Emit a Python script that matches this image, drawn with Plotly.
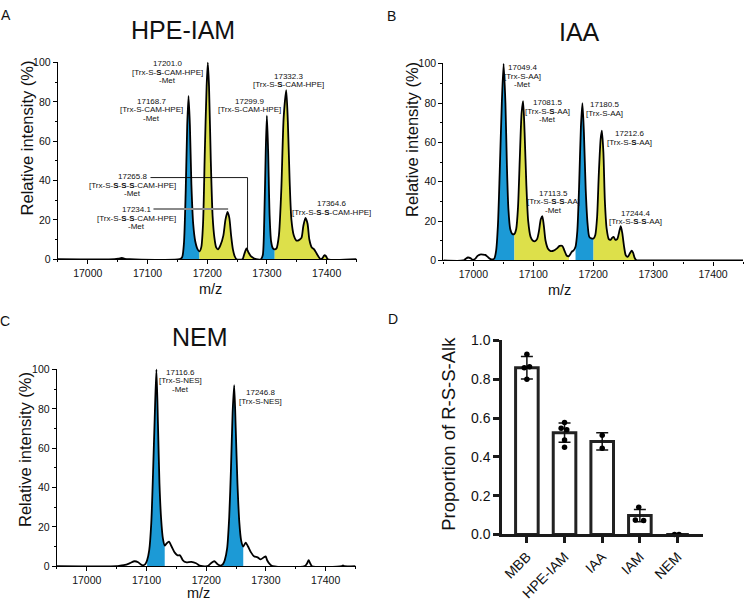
import plotly.graph_objects as go

W, H = 744, 606
FONT = "Arial, 'Liberation Sans', Helvetica, sans-serif"
BLUE = "#1C9AD6"
YELLOW = "#DDE04A"
INK = "#111111"

# ---------------- Panel A: HPE-IAM spectrum ----------------
a_mz = [16950, 17045, 17052, 17057, 17062, 17070, 17154, 17158, 17161, 17164,
        17166.5, 17168.7, 17171, 17173.5, 17176.5, 17180, 17184, 17187, 17190, 17193,
        17196, 17199, 17201, 17203, 17206, 17209, 17212, 17215, 17218, 17222,
        17227, 17230.5, 17234, 17237, 17240, 17243, 17246, 17249, 17259, 17262,
        17265.8, 17269, 17273, 17278, 17282, 17290, 17293, 17295.5, 17298, 17299.9,
        17302, 17304.5, 17307, 17310, 17313, 17316, 17320, 17324, 17328, 17332.3,
        17335, 17338, 17341, 17345, 17349, 17352, 17355, 17358, 17361, 17364.6,
        17368, 17371, 17375, 17379, 17383, 17387, 17390, 17393, 17396, 17399,
        17402, 17450]
a_int = [0, 0, 0.3, 0.6, 0.2, 0, 0, 1, 8, 35,
         68, 83, 68, 38, 18, 9, 5, 4, 6, 18,
         55, 88, 100, 88, 50, 22, 11, 6, 5, 7,
         12, 20, 24, 21, 12, 5, 1.5, 0, 0, 2.5,
         5.5, 3.5, 1.5, 0.5, 0, 0, 2, 20, 55, 73,
         55, 22, 9, 5.5, 5, 5.5, 12, 35, 72, 86,
         70, 40, 20, 12, 9.5, 9.5, 10, 11, 17, 21,
         18, 10, 6, 5, 3, 1, 0, 0.5, 2, 1.5,
         0, 0]
a_blue = [(17154, 17187), (17290, 17313)]
a_yellow = [(17187, 17249), (17259, 17282), (17313, 17402)]
a_labels = [
    ["17201.0", "[Trx-S-<b>S</b>-CAM-HPE]", "-Met"],
    ["17168.7", "[Trx-S-CAM-HPE]", "-Met"],
    ["17299.9", "[Trx-S-CAM-HPE]"],
    ["17332.3", "[Trx-S-<b>S</b>-CAM-HPE]"],
    ["17265.8", "[Trx-S-<b>S</b>-<b>S</b>-<b>S</b>-CAM-HPE]", "-Met"],
    ["17234.1", "[Trx-S-<b>S</b>-<b>S</b>-CAM-HPE]", "-Met"],
    ["17364.6", "[Trx-S-<b>S</b>-<b>S</b>-CAM-HPE]"],
]
a_label_pos = [(17134, 99.5), (17107, 80.2), (17271, 80.2), (17336, 93),
               (17075, 42), (17081.6, 25.2), (17408, 28.2)]

# ---------------- Panel B: IAA spectrum ----------------
b_mz = [16950, 16983, 16987, 16991, 16995, 16999, 17003, 17007, 17011, 17016,
        17020, 17024, 17028, 17032, 17035, 17038, 17041, 17044, 17047.5, 17050.5,
        17053.5, 17056, 17058.5, 17061.5, 17065, 17068.5, 17071.5, 17074.5, 17077.5, 17080.5,
        17083, 17085.5, 17088.5, 17091.5, 17095.5, 17099.5, 17103, 17106.5, 17109.5, 17112.5,
        17115, 17117.5, 17120.5, 17124.5, 17129, 17134, 17139, 17144, 17148.5, 17152,
        17156, 17159.5, 17162, 17164.5, 17167, 17170.5, 17173.5, 17176.5, 17179.5, 17182,
        17184.5, 17187.5, 17190.5, 17193.5, 17197, 17200.5, 17203.5, 17206.5, 17209.5, 17212.5,
        17214.5, 17217, 17219.5, 17222.5, 17226, 17229, 17231.5, 17234, 17237, 17240,
        17243, 17246, 17248.5, 17251.5, 17254.5, 17257.5, 17261, 17264, 17266.5, 17269,
        17271.5, 17274, 17280, 17450]
b_int = [0, 0, 0.8, 1.5, 1.2, 0.3, 0.8, 2.3, 3, 3,
         2.8, 1.8, 0.8, 0.5, 1, 5, 18, 45, 80, 100,
         80, 48, 26, 16, 13.5, 13.5, 16, 27, 52, 75,
         81, 65, 38, 20, 12, 10, 9.8, 11, 15, 21,
         22.5, 18, 10, 6, 4.8, 5, 6, 7.4, 7.4, 5,
         2.4, 2.2, 3.3, 4.5, 5, 7, 15, 38, 68, 80,
         65, 36, 19, 12, 11.2, 11.2, 13, 22, 45, 62,
         66, 55, 30, 16, 10.8, 10.5, 11.5, 12, 10.5, 10.8,
         14, 17.5, 14, 7, 2.5, 1.8, 3.5, 5, 4, 1.5,
         0.3, 0, 0, 0]
b_blue = [(17035, 17068.5), (17170.5, 17200.5)]
b_yellow = [(17068.5, 17159.5), (17200.5, 17274)]
b_labels = [
    ["17049.4", "[Trx-S-AA]", "-Met"],
    ["17081.5", "[Trx-S-<b>S</b>-AA]", "-Met"],
    ["17180.5", "[Trx-S-AA]"],
    ["17212.6", "[Trx-S-<b>S</b>-AA]"],
    ["17113.5", "[Trx-S-<b>S</b>-<b>S</b>-AA]", "-Met"],
    ["17244.4", "[Trx-S-<b>S</b>-<b>S</b>-AA]"],
]
b_label_pos = [(17081.8, 98), (17123.7, 80.3), (17218.5, 79.3), (17260.4, 64.5),
               (17133.7, 34.3), (17270.4, 23.9)]

# ---------------- Panel C: NEM spectrum ----------------
c_mz = [16950, 17050, 17056, 17064, 17072, 17080, 17086, 17090, 17094, 17098,
        17101, 17104.5, 17108, 17111, 17113.7, 17116.6, 17119.2, 17121.7, 17124.5, 17127.5,
        17130.5, 17133.5, 17137.5, 17142, 17147, 17152, 17156, 17161, 17166, 17175,
        17183, 17189, 17194, 17202, 17208, 17213.5, 17219, 17224.5, 17228, 17231,
        17235, 17238.5, 17241.5, 17244.2, 17246.8, 17249.4, 17252.3, 17255.5, 17258.5, 17262,
        17266, 17270, 17275, 17280, 17286, 17291, 17296.5, 17299.5, 17302, 17306.5,
        17311, 17365, 17369, 17371.5, 17374, 17377, 17427, 17429, 17431, 17450]
c_int = [0, 0, 0.3, 0.6, 1.5, 2.5, 2, 1, 0.4, 1,
         3, 8, 22, 48, 75, 100, 72, 42, 24, 14,
         10.5, 11.5, 12.5, 10, 7, 5.5, 5.5, 3, 2, 2.2,
         1.5, 0.3, 0, 0, 1.5, 2.5, 1, 0.3, 1, 3,
         9, 25, 50, 78, 92, 70, 42, 22, 13, 10,
         12, 10, 7, 5, 4.5, 3.5, 4.5, 5, 3, 1,
         0, 0, 1.5, 3, 1.5, 0, 0, 0.4, 0, 0]
c_blue = [(17101, 17130.5), (17228, 17262)]
c_yellow = []
c_labels = [
    ["17116.6", "[Trx-S-NES]", "-Met"],
    ["17246.8", "[Trx-S-NES]"],
]
c_label_pos = [(17156.7, 98.7), (17291.7, 88.3)]

# ---------------- Panel D: bar chart ----------------
d_cats = ["MBB", "HPE-IAM", "IAA", "IAM", "NEM"]
d_mean = [0.86, 0.525, 0.48, 0.097, 0.0]
d_sd = [0.058, 0.05, 0.045, 0.032, 0.0]
d_points = [[0.93, 0.86, 0.865, 0.80],
            [0.578, 0.548, 0.54, 0.487, 0.45],
            [0.512, 0.445],
            [0.14, 0.075, 0.072],
            [0.0, 0.0]]
d_jitter = [[0, -0.07, 0.07, 0],
            [0, -0.09, 0.06, 0, 0],
            [0, 0],
            [-0.03, -0.12, 0.10],
            [-0.08, 0.04]]

panel_titles = ["HPE-IAM", "IAA", "NEM"]
panel_letters = ["A", "B", "C", "D"]

# ---------------- figure ----------------
fig = go.Figure()


def add_spectrum(mz, inten, blue, yellow, xa, ya):
    for regions, col in ((blue, BLUE), (yellow, YELLOW)):
        for lo, hi in regions:
            xs = [m for m in mz if lo <= m <= hi]
            ys = [v for m, v in zip(mz, inten) if lo <= m <= hi]
            fig.add_trace(go.Scatter(
                x=xs, y=ys, mode="lines", fill="tozeroy", fillcolor=col,
                line=dict(width=0, color=col, shape="spline", smoothing=0.7),
                xaxis=xa, yaxis=ya, hoverinfo="skip"))
    fig.add_trace(go.Scatter(
        x=mz, y=inten, mode="lines",
        line=dict(width=1.8, color="black", shape="spline", smoothing=0.7),
        xaxis=xa, yaxis=ya, hoverinfo="skip"))


add_spectrum(a_mz, a_int, a_blue, a_yellow, "x", "y")
add_spectrum(b_mz, b_int, b_blue, b_yellow, "x2", "y2")
add_spectrum(c_mz, c_int, c_blue, c_yellow, "x3", "y3")

# bars
d_x = list(range(len(d_cats)))
fig.add_trace(go.Bar(
    x=d_x, y=d_mean, width=0.6, xaxis="x4", yaxis="y4",
    marker=dict(color="white", line=dict(color="#222222", width=3)),
    error_y=dict(type="data", array=d_sd, visible=True, color="#111111",
                 thickness=1.5, width=6),
    hoverinfo="skip"))
px_, py_ = [], []
for i, (pts, jit) in enumerate(zip(d_points, d_jitter)):
    for v, j in zip(pts, jit):
        px_.append(i + j)
        py_.append(v)
fig.add_trace(go.Scatter(
    x=px_, y=py_, mode="markers", xaxis="x4", yaxis="y4", cliponaxis=False,
    marker=dict(size=5.5, color="black"), hoverinfo="skip"))


def spec_axes(xdom, ydom, anchor_x, anchor_y):
    xa = dict(domain=xdom, anchor=anchor_y, range=[16950, 17450],
              tickmode="linear", tick0=17000, dtick=100, tickformat="d",
              ticks="outside", ticklen=4, tickwidth=1, tickcolor="black",
              minor=dict(ticks="outside", ticklen=2, dtick=50, tick0=16950, tickcolor="black"),
              showline=True, linecolor="black", linewidth=1.4, showgrid=False,
              zeroline=False, tickfont=dict(size=10.5, family=FONT, color=INK))
    ya = dict(domain=ydom, anchor=anchor_x, range=[0, 100.5],
              tickmode="linear", tick0=0, dtick=20,
              ticks="outside", ticklen=4, tickwidth=1, tickcolor="black",
              minor=dict(ticks="outside", ticklen=2, dtick=10, tick0=0, tickcolor="black"),
              showline=True, linecolor="black", linewidth=1.4, showgrid=False,
              zeroline=False, tickfont=dict(size=10.5, family=FONT, color=INK))
    return xa, ya


xa1, ya1 = spec_axes([57 / W, 356 / W], [1 - 258 / H, 1 - 55 / H], "x", "y")
xa2, ya2 = spec_axes([443 / W, 743 / W], [1 - 259.3 / H, 1 - 56.3 / H], "x2", "y2")
xa3, ya3 = spec_axes([56 / W, 355 / W], [1 - 573.3 / H, 1 - 370.3 / H], "x3", "y3")

xa4 = dict(domain=[501.7 / W, 702.7 / W], anchor="y4", range=[-0.66, 4.67],
           tickmode="array", tickvals=d_x, ticktext=d_cats, tickangle=-45,
           ticks="outside", ticklen=6, tickwidth=2.5, tickcolor="#1a1a1a",
           showline=True, linecolor="#1a1a1a", linewidth=2.5, showgrid=False,
           zeroline=False, tickfont=dict(size=14, family=FONT, color=INK))
ya4 = dict(domain=[1 - 540.7 / H, 1 - 341 / H], anchor="x4", range=[0, 1.003],
           tickmode="linear", tick0=0, dtick=0.2, tickformat=".1f",
           ticks="outside", ticklen=6, tickwidth=2.5, tickcolor="#1a1a1a",
           showline=True, linecolor="#1a1a1a", linewidth=2.5, showgrid=False,
           zeroline=False, tickfont=dict(size=14, family=FONT, color=INK))

annotations = []


def paper_text(text, px, py, size, angle=0, pad=1):
    return dict(text=text, x=px / W, y=1 - py / H, xref="paper", yref="paper",
                showarrow=False, textangle=angle, xanchor="center", yanchor="middle",
                borderpad=pad, font=dict(size=size, family=FONT, color=INK))


for lab, (px, py) in zip(panel_letters, [(5, 7), (391, 8), (4, 322), (393, 319)]):
    annotations.append(paper_text(lab, px, py, 14))
for t, (px, py) in zip(panel_titles, [(182, 23), (579, 25), (199, 338)]):
    annotations.append(paper_text(t, px, py, 25))
for px, py in [(27, 133), (412, 135), (24, 453)]:
    annotations.append(paper_text("Relative intensity (%)", px, py, 16.5, -90))
for px, py in [(210, 289), (559, 290), (198, 601)]:
    annotations.append(paper_text("m/z", px, py, 14.5, 0, 0))
annotations.append(paper_text("Proportion of R-S-S-Alk", 448, 437, 18.5, -90))


def peak_labels(labels, positions, xr, yr):
    for lines, (x, y) in zip(labels, positions):
        for i, ln in enumerate(lines):
            annotations.append(dict(
                text=ln, x=x, y=y, xref=xr, yref=yr, yshift=-8.5 * i,
                showarrow=False, xanchor="center", yanchor="middle",
                font=dict(size=8, family=FONT, color=INK)))


peak_labels(a_labels, a_label_pos, "x", "y")
peak_labels(b_labels, b_label_pos, "x2", "y2")
peak_labels(c_labels, c_label_pos, "x3", "y3")

shapes = [
    dict(type="path", xref="x", yref="y", path="M 17105,41.5 L 17267.5,41.5 L 17267.5,5",
         line=dict(color="black", width=0.9)),
    dict(type="line", xref="x", yref="y", x0=17110, y0=25.5, x1=17235, y1=25.5,
         line=dict(color="#8a8a8a", width=2)),
]

fig.update_layout(
    width=W, height=H, margin=dict(l=0, r=0, t=0, b=0),
    paper_bgcolor="white", plot_bgcolor="white", showlegend=False,
    font=dict(family=FONT, color=INK),
    xaxis=xa1, yaxis=ya1, xaxis2=xa2, yaxis2=ya2, xaxis3=xa3, yaxis3=ya3,
    xaxis4=xa4, yaxis4=ya4, annotations=annotations, shapes=shapes,
)

fig.write_html(
    "out.html",
    config={"displayModeBar": False},
    post_script="document.body.style.margin='0px';document.body.style.overflow='hidden';",
)
